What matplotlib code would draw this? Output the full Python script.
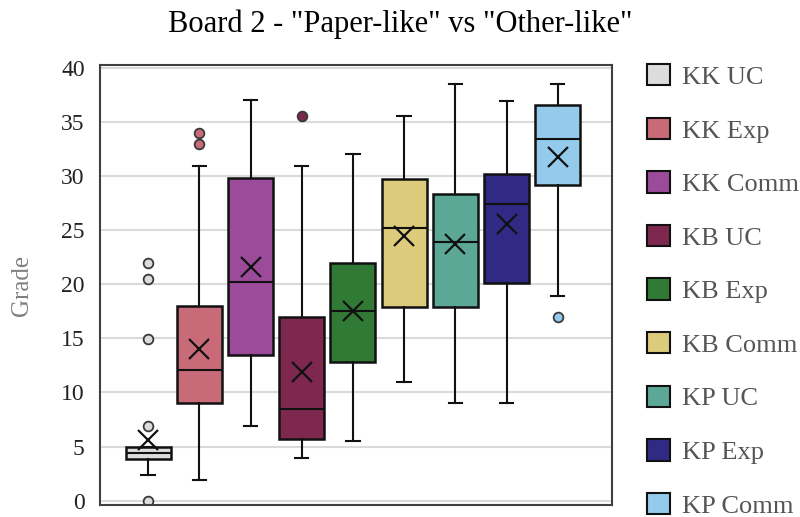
import matplotlib
matplotlib.use("Agg")
import matplotlib.pyplot as plt
import matplotlib.patches as mpatches

# ---------------------------------------------------------------------------
# Data
# ---------------------------------------------------------------------------

GROUPS   = ["KK UC", "KK Exp", "KK Comm", "KB UC", "KB Exp",
            "KB Comm", "KP UC", "KP Exp", "KP Comm"]
WHISK_LO = [2.4, 1.9, 6.9, 3.9, 5.5, 11.0, 9.0, 9.0, 18.9]
Q1       = [3.85, 9.0, 13.45, 5.7, 12.8, 17.9, 17.9, 20.1, 29.2]
MEDIAN   = [4.4, 12.1, 20.2, 8.45, 17.5, 25.2, 23.9, 27.45, 33.45]
Q3       = [5.0, 18.0, 29.8, 16.95, 21.95, 29.7, 28.3, 30.15, 36.55]
WHISK_HI = [5.0, 30.95, 37.0, 30.95, 32.0, 35.5, 38.5, 36.95, 38.5]
MEANS    = [5.6, 14.05, 21.55, 11.9, 17.5, 24.5, 23.75, 25.6, 31.75]
OUTLIERS = [[22.0, 20.5, 14.9, 6.9, 0.0], [34.0, 33.0], [], [35.5],
            [], [], [], [], [17.0]]

COLORS = ["#dcdcdc", "#c86a78", "#9c4a9a", "#7e2850", "#317a36",
          "#dccb7a", "#5ba897", "#312a85", "#94cbec"]

FONT = ["Liberation Serif", "DejaVu Serif"]
plt.rcParams["font.family"] = FONT

# ---------------------------------------------------------------------------
# Plot
# ---------------------------------------------------------------------------

fig = plt.figure(figsize=(8, 5.17), dpi=100)
ax = fig.add_axes([0.125, 0.0232, 0.64, 0.851])

stats = []
for i, name in enumerate(GROUPS):
    stats.append(dict(label=name, whislo=WHISK_LO[i], q1=Q1[i], med=MEDIAN[i],
                      q3=Q3[i], whishi=WHISK_HI[i], mean=MEANS[i],
                      fliers=OUTLIERS[i]))

positions = list(range(1, len(GROUPS) + 1))
bp = ax.bxp(stats, positions=positions, widths=0.88, capwidths=0.26,
            patch_artist=True, showmeans=True, showfliers=True,
            boxprops=dict(linewidth=1.8, edgecolor="#111111"),
            medianprops=dict(color="#111111", linewidth=1.5),
            whiskerprops=dict(color="#111111", linewidth=1.5),
            capprops=dict(color="#111111", linewidth=1.5),
            meanprops=dict(marker="x", markersize=14, markeredgewidth=1.6,
                           markeredgecolor="#111111"),
            flierprops=dict(marker="o", markersize=7, markeredgewidth=1.3,
                            markeredgecolor="#3a3a3a"))

for patch, flier, c in zip(bp["boxes"], bp["fliers"], COLORS):
    patch.set_facecolor(c)
    flier.set_markerfacecolor(c)

ax.set_xlim(0.06, 10.06)
ax.set_ylim(-0.4, 40.25)
ax.set_yticks(range(0, 41, 5))
ax.set_xticks([])
ax.yaxis.grid(True, color="#dadada", linewidth=1.5)
ax.set_axisbelow(True)
ax.tick_params(axis="y", length=0, pad=11, labelsize=17, labelcolor="#222222")
for s in ax.spines.values():
    s.set_color("#404040")
    s.set_linewidth(1.5)

ax.set_ylabel("Grade", fontsize=18, color="#7f7f7f", labelpad=20)
fig.suptitle('Board 2 - "Paper-like" vs "Other-like"', fontsize=22, y=0.982)

handles = [mpatches.Patch(facecolor=c, edgecolor="#111111", linewidth=1.5, label=g)
           for g, c in zip(GROUPS, COLORS)]
fig.legend(handles=handles, loc="upper left", bbox_to_anchor=(0.809, 0.876),
           frameon=False, fontsize=19, labelspacing=1.09, handlelength=0.87,
           handleheight=0.87, handletextpad=0.45, borderpad=0, borderaxespad=0,
           labelcolor="#555555")

fig.savefig("out.png", dpi=100)
